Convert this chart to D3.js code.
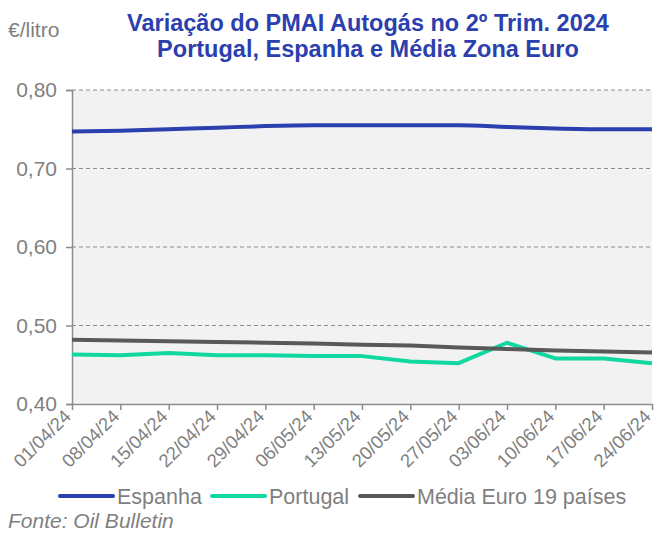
<!DOCTYPE html>
<html>
<head>
<meta charset="utf-8">
<script src="https://cdn.jsdelivr.net/npm/d3@7"></script>
<style>
  body { margin: 0; background: #fff; }
  svg { display: block; font-family: "Liberation Sans", Arial, sans-serif; }
</style>
</head>
<body>
<svg width="655" height="535"></svg>
<script>
let dates = ["01/04/24", "08/04/24", "15/04/24", "22/04/24", "29/04/24", "06/05/24", "13/05/24",
    "20/05/24", "27/05/24", "03/06/24", "10/06/24", "17/06/24", "24/06/24"];
let espanha = [0.747, 0.748, 0.750, 0.752, 0.754, 0.755, 0.755, 0.755, 0.755, 0.753, 0.751, 0.750, 0.750];
let portugal = [0.463, 0.462, 0.465, 0.462, 0.462, 0.461, 0.461, 0.454, 0.452, 0.478, 0.458, 0.458, 0.452];
let mediaEuro = [0.482, 0.481, 0.480, 0.479, 0.478, 0.477, 0.4756, 0.4744, 0.472, 0.470, 0.468, 0.467, 0.4655];
let yTicks = [0.40, 0.50, 0.60, 0.70, 0.80];

let series = [
    {name: "Espanha", values: espanha, color: "#2b3fae", smooth: true},
    {name: "Portugal", values: portugal, color: "#10d8a0", smooth: false},
    {name: "Média Euro 19 países", values: mediaEuro, color: "#595959", smooth: false}
];

let svg = d3.select("svg");
let margin = {top: 90, left: 72, right: 3, bottom: 131},
    width = 655 - margin.left - margin.right,
    height = 535 - margin.top - margin.bottom;

let x = d3.scalePoint().domain(dates).range([0, width]);
let y = d3.scaleLinear().domain([0.40, 0.80]).range([height, 0]);
let fmt = function (d) { return d3.format(".2f")(d).replace(".", ","); };

let g = svg.append("g").attr("transform", "translate(" + margin.left + "," + margin.top + ")");

g.append("rect")
    .attr("width", width).attr("height", height)
    .attr("fill", "#f2f2f2");

// dashed gridlines
g.selectAll(".grid")
    .data(yTicks.slice(1))
    .enter().append("line")
    .attr("x1", 0).attr("x2", width)
    .attr("y1", function (d) { return y(d); })
    .attr("y2", function (d) { return y(d); })
    .attr("stroke", "#8c8c8c")
    .attr("stroke-width", 1.2)
    .attr("stroke-dasharray", "4,3");

let yAxis = g.append("g")
    .call(d3.axisLeft(y).tickValues(yTicks).tickFormat(fmt).tickSize(6).tickPadding(9));
yAxis.select(".domain").attr("stroke", "#8c8c8c").attr("stroke-width", 1.5);
yAxis.selectAll(".tick line").attr("stroke", "#8c8c8c").attr("stroke-width", 1.5);
yAxis.selectAll("text").attr("fill", "#7f7f7f").style("font-size", "21px");

let xAxis = g.append("g")
    .attr("transform", "translate(0," + height + ")")
    .call(d3.axisBottom(x).tickSize(6).tickSizeOuter(0));
xAxis.select(".domain").attr("stroke", "#8c8c8c").attr("stroke-width", 1.5);
xAxis.selectAll(".tick line").attr("stroke", "#8c8c8c").attr("stroke-width", 1.5);
xAxis.selectAll("text")
    .attr("fill", "#7f7f7f")
    .style("font-size", "18.5px")
    .style("text-anchor", "end")
    .attr("dy", "0.35em")
    .attr("transform", "translate(-5,9) rotate(-45)")
    .attr("x", 0).attr("y", 0);

series.forEach(function (s) {
    let line = d3.line()
        .curve(s.smooth ? d3.curveMonotoneX : d3.curveLinear)
        .x(function (d, i) { return x(dates[i]); })
        .y(function (d) { return y(d); });
    g.append("path")
        .datum(s.values)
        .attr("fill", "none")
        .attr("stroke", s.color)
        .attr("stroke-width", 4)
        .attr("stroke-linejoin", "round")
        .attr("d", line);
});

// title
let title = svg.append("text")
    .attr("x", 368).attr("text-anchor", "middle")
    .attr("fill", "#2b3fae")
    .style("font-size", "23.5px").style("font-weight", "bold");
title.append("tspan").attr("x", 368).attr("y", 31).text("Variação do PMAI Autogás no 2º Trim. 2024");
title.append("tspan").attr("x", 368).attr("y", 57).text("Portugal, Espanha e Média Zona Euro");

svg.append("text")
    .attr("x", 8).attr("y", 37)
    .attr("fill", "#7f7f7f")
    .style("font-size", "21px")
    .text("€/litro");

// legend
let legendX = [60, 212, 360];
let legend = svg.selectAll(".legend")
    .data(series)
    .enter().append("g")
    .attr("transform", function (d, i) { return "translate(" + legendX[i] + ",496)"; });
legend.append("line")
    .attr("x1", 0).attr("x2", 53).attr("y1", 0).attr("y2", 0)
    .attr("stroke", function (d) { return d.color; })
    .attr("stroke-width", 4)
    .attr("stroke-linecap", "round");
legend.append("text")
    .attr("x", 57).attr("y", 0).attr("dy", "0.35em")
    .attr("fill", "#7f7f7f")
    .style("font-size", "21.5px")
    .text(function (d) { return d.name; });

svg.append("text")
    .attr("x", 8).attr("y", 528)
    .attr("fill", "#7f7f7f")
    .style("font-size", "21px").style("font-style", "italic")
    .text("Fonte: Oil Bulletin");
</script>
</body>
</html>
